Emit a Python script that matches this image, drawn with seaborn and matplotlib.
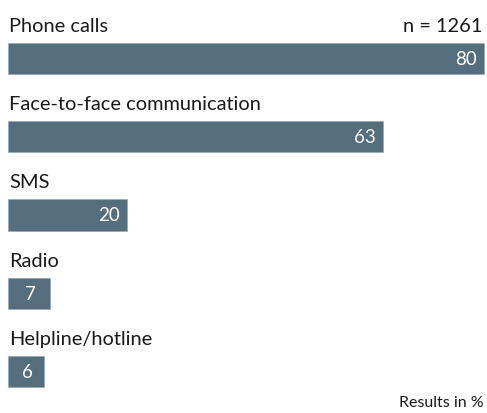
import matplotlib
matplotlib.use("Agg")
import matplotlib.pyplot as plt
import seaborn as sns
import pandas as pd

categories = ["Phone calls", "Face-to-face communication", "SMS", "Radio", "Helpline/hotline"]
values = [80, 63, 20, 7, 6]
sample_note = "n = 1261"
unit_note = "Results in %"

sns.set_theme(style="white")
plt.rcParams["font.family"] = ["Lato", "DejaVu Sans"]

bar_color = "#546e7e"
text_color = "#1a1a1a"

df = pd.DataFrame({"channel": categories, "share": values})

fig = plt.figure(figsize=(4.87, 4.13), dpi=100)
ax = fig.add_axes([0, 0, 1, 1])

sns.barplot(data=df, y="channel", x="share", orient="h", color=bar_color,
            saturation=1, width=0.4, ax=ax, edgecolor="#8fa3b0", linewidth=0.4)

# pixel-consistent limits: bars start 8px from the left edge, 80 reaches 484px
px_per_unit = 476 / 80
ax.set_xlim(-8 / px_per_unit, (487 - 8) / px_per_unit)
ax.set_ylim(4.530, -0.748)
ax.axis("off")

half = 0.4 / 2
for i, (cat, val) in enumerate(zip(categories, values)):
    ax.text(0.15, i - half - 0.14, cat, ha="left", va="baseline",
            fontsize=14.4, color=text_color)
    if val >= 10:
        ax.text(val - 7 / px_per_unit, i + 0.01, str(val), ha="right", va="center",
                fontsize=13.5, color="white")
    else:
        ax.text(val / 2 + 0.3, i + 0.01, str(val), ha="center", va="center",
                fontsize=13.5, color="white")

ax.text((482 - 8) / px_per_unit, -half - 0.14, sample_note, ha="right", va="baseline",
        fontsize=14.4, color=text_color)
ax.text((484 - 8) / px_per_unit, 4.45, unit_note, ha="right", va="baseline",
        fontsize=11.5, color=text_color)

fig.savefig("out.png", dpi=100)
